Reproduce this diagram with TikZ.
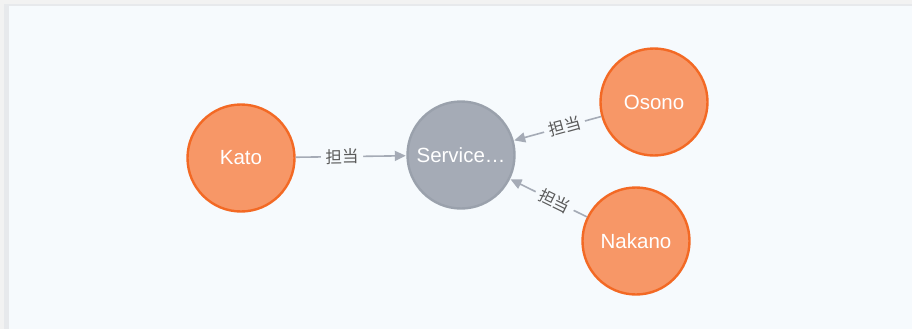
\documentclass[tikz,border=0pt]{standalone}
\usepackage{fontspec}
\setmainfont{Liberation Sans}
\newfontfamily\cjk{Noto Sans CJK JP}
\usetikzlibrary{arrows.meta}
\definecolor{outerbg}{HTML}{F2F2F2}
\definecolor{rim}{HTML}{E7E9EC}
\definecolor{panel}{HTML}{F6FAFD}
\definecolor{orfill}{HTML}{F79767}
\definecolor{orline}{HTML}{F36924}
\definecolor{gyfill}{HTML}{A5ABB6}
\definecolor{gyline}{HTML}{9AA1AC}
\definecolor{edgec}{HTML}{A5ABB6}
\definecolor{labc}{HTML}{5A5A5A}
\tikzset{
  person/.style={circle, draw=orline, fill=orfill, line width=2.4pt, minimum size=107pt, inner sep=0pt, text=white, font=\fontsize{20.5}{24}\selectfont},
  service/.style={circle, draw=gyline, fill=gyfill, line width=2.4pt, minimum size=107pt, inner sep=0pt, text=white, font=\fontsize{20.5}{24}\selectfont},
  rel/.style={draw=edgec, line width=1.6pt, -{Triangle[length=11pt,width=10pt]}, shorten >=0.5pt},
  rellab/.style={fill=panel, text=labc, inner sep=4.5pt, font=\cjk\fontsize{16.5}{18}\selectfont, sloped, pos=0.42}
}
\begin{document}
\begin{tikzpicture}[x=1pt,y=-1pt]
\useasboundingbox (0,0) rectangle (912,329);
\fill[outerbg] (0,0) rectangle (912,329);
\fill[rim] (4,4) rectangle (912,329);
\fill[panel] (9,6.5) rectangle (912,329);
\node[person] (kato) at (241,158) {Kato};
\node[service] (svc) at (461,155) {Service\ldots};
\node[person] (osono) at (654,102) {Osono};
\node[person] (nakano) at (636,241) {Nakano};
\draw[rel] (kato) -- node[rellab] {担当} (svc);
\draw[rel] (osono) -- node[rellab] {担当} (svc);
\draw[rel] (nakano) -- node[rellab] {担当} (svc);
\end{tikzpicture}
\end{document}
